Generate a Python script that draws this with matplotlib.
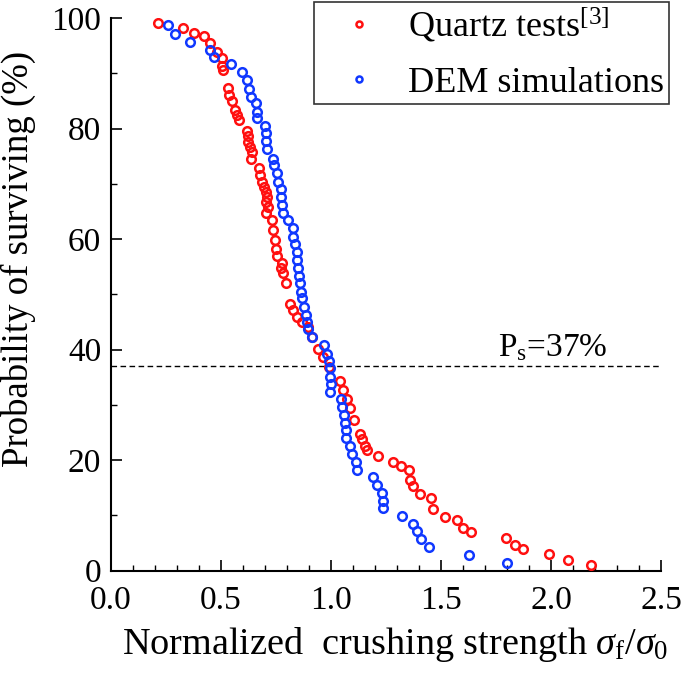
import matplotlib
matplotlib.use("Agg")
import matplotlib.pyplot as plt

plt.rcParams['font.family'] = ['Liberation Serif', 'DejaVu Serif']
plt.rcParams['mathtext.fontset'] = 'custom'
plt.rcParams['mathtext.rm'] = 'Liberation Serif'
plt.rcParams['mathtext.it'] = 'Liberation Serif:italic'

# Quartz tests [3]
quartz_x = [0.215, 0.329, 0.377, 0.423, 0.45, 0.484, 0.503, 0.505, 0.51,
            0.533, 0.538, 0.549, 0.564, 0.571, 0.583, 0.617, 0.621, 0.624,
            0.632, 0.642, 0.635, 0.673, 0.677, 0.685, 0.695, 0.703, 0.708,
            0.703, 0.715, 0.705, 0.73, 0.738, 0.745, 0.75, 0.753, 0.776,
            0.771, 0.783, 0.795, 0.814, 0.829, 0.844, 0.87, 0.897, 0.912,
            0.942, 0.965, 0.99, 1.041, 1.056, 1.071, 1.086, 1.105, 1.132,
            1.14, 1.155, 1.165, 1.215, 1.28, 1.317, 1.356, 1.359, 1.371,
            1.405, 1.453, 1.465, 1.516, 1.571, 1.599, 1.635, 1.795, 1.836,
            1.874, 1.99, 2.079, 2.18]
quartz_y = [99.2, 98.2, 97.4, 96.7, 95.5, 93.9, 92.8, 91.4, 90.6,
            87.3, 86.1, 85.0, 83.4, 82.5, 81.5, 79.6, 78.6, 77.5,
            76.6, 75.7, 74.5, 72.8, 71.6, 70.4, 69.5, 68.6, 67.7,
            66.8, 65.8, 64.7, 63.5, 61.7, 59.9, 58.3, 57.0, 55.6,
            54.7, 53.8, 52.0, 48.3, 47.2, 46.0, 45.0, 44.1, 42.3,
            40.2, 38.6, 36.8, 34.3, 32.7, 31.1, 29.4, 27.3, 24.8,
            23.9, 22.5, 21.8, 20.7, 19.7, 18.9, 18.2, 16.4, 15.3,
            13.9, 13.1, 11.1, 9.7, 9.1, 7.8, 7.0, 5.9, 4.7,
            3.9, 3.0, 1.9, 1.1]

# DEM simulations
dem_x = [0.26, 0.289, 0.359, 0.45, 0.468, 0.544, 0.595, 0.62, 0.629, 0.636,
         0.659, 0.664, 0.662, 0.70, 0.705, 0.705, 0.708, 0.735, 0.741, 0.753,
         0.76, 0.771, 0.775, 0.776, 0.78, 0.806, 0.829, 0.829, 0.836, 0.844,
         0.847, 0.851, 0.856, 0.859, 0.862, 0.867, 0.877, 0.886, 0.89, 0.897,
         0.912, 0.968, 0.98, 0.992, 0.995, 0.995, 0.998, 0.995, 1.045, 1.049,
         1.057, 1.064, 1.068, 1.068, 1.086, 1.094, 1.114, 1.12, 1.192, 1.21,
         1.23, 1.238, 1.238, 1.321, 1.374, 1.392, 1.409, 1.444, 1.629, 1.80]
dem_y = [98.8, 97.2, 95.7, 94.3, 92.9, 91.7, 90.3, 88.8, 87.1, 85.7,
         84.6, 83.1, 81.9, 80.4, 79.2, 77.7, 76.4, 74.6, 73.4, 71.9,
         70.4, 69.0, 67.7, 66.2, 64.8, 63.5, 62.0, 60.4, 59.2, 57.7,
         56.2, 54.7, 53.3, 52.0, 50.5, 49.3, 47.8, 46.3, 45.1, 43.7,
         42.3, 40.8, 39.3, 38.0, 36.6, 35.1, 33.8, 32.4, 31.0, 29.6,
         28.2, 26.8, 25.4, 24.1, 22.5, 21.2, 19.7, 18.3, 17.0, 15.5,
         14.1, 12.6, 11.3, 9.9, 8.5, 7.1, 5.7, 4.3, 2.9, 1.4]

ps_level = 37
x_ticks = [0.0, 0.5, 1.0, 1.5, 2.0, 2.5]
y_ticks = [0, 20, 40, 60, 80, 100]

fig = plt.figure(figsize=(6.85, 6.73), dpi=100)
ax = fig.add_axes([0.162, 0.152, 0.803, 0.821])

red = '#ff1010'
blue = '#1038ff'
ax.plot(quartz_x, quartz_y, 'o', ms=6.2, mfc='none', mec=red, mew=1.8,
        label=r'Quartz tests$^{[3]}$', zorder=3)
ax.plot(dem_x, dem_y, 'o', ms=6.2, mfc='none', mec=blue, mew=1.8,
        label='DEM simulations', zorder=4)

ax.axhline(ps_level, color='black', lw=1.0, ls=(0, (4, 2.5)), zorder=2)
ax.text(1.76, 38.8, r'P$_{\rm s}$=37%', fontsize=24,
        ha='left', va='baseline')

ax.set_xlim(0, 2.5)
ax.set_ylim(0, 100)
ax.set_xticks(x_ticks)
ax.set_xticklabels([f'{v:.1f}' for v in x_ticks])
ax.set_yticks(y_ticks)
ax.set_xticks([i * 0.1 for i in range(26)], minor=True)
ax.set_yticks(list(range(0, 101, 10)), minor=True)

for s in ['top', 'right']:
    ax.spines[s].set_visible(False)
for s in ['left', 'bottom']:
    ax.spines[s].set_linewidth(1.5)

ax.tick_params(which='major', direction='in', length=8, width=1.2,
               labelsize=24)
ax.tick_params(axis='x', which='major', pad=11)
ax.tick_params(axis='y', which='major', pad=7)
ax.tick_params(which='minor', direction='in', length=4.3, width=1.0)

ax.set_xlabel(r'Normalized  crushing strength $\it{\sigma}_{\rm f}/\it{\sigma}_{\rm 0}$',
              fontsize=27.5)
ax.xaxis.set_label_coords(0.516, -0.098)
ax.set_ylabel('Probability of surviving (%)', fontsize=26.5)
ax.yaxis.set_label_coords(-0.136, 0.565)

leg = ax.legend(loc='upper right', bbox_to_anchor=(0.976, 0.997),
                bbox_transform=fig.transFigure, fontsize=26, frameon=True,
                fancybox=False, edgecolor='black', markerscale=0.7,
                handletextpad=0.25, borderpad=0.12, labelspacing=0.6,
                handlelength=2.25, borderaxespad=0)
leg.get_frame().set_linewidth(1.2)

fig.savefig('out.png', dpi=100)
